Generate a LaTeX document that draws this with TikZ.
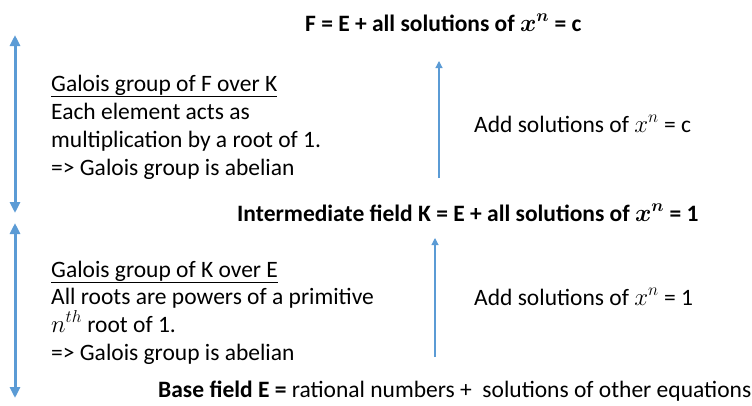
\documentclass[tikz,border=0pt]{standalone}
\usepackage{fontspec}
\setmainfont{Carlito}
\usetikzlibrary{arrows.meta}
\definecolor{arrowblue}{HTML}{5B9BD5}
\newcommand{\xn}{{\fontsize{26pt}{28pt}\selectfont$x^n$}}
\newcommand{\bxn}{{\fontsize{26pt}{28pt}\selectfont\boldmath$x^n$}}
\begin{document}
\begin{tikzpicture}[x=1pt,y=-1pt,
  txt/.style={inner sep=0pt,anchor=base west,font=\fontsize{23.5pt}{28pt}\selectfont},
  bigarrow/.style={arrowblue,line width=3pt,{Triangle[width=10pt,length=11pt]}-{Triangle[width=10pt,length=11pt]}},
  thinarrow/.style={arrowblue,line width=1.1pt,-{Triangle[width=7pt,length=7pt]}}]
\useasboundingbox (0,0) rectangle (752,405);
% titles
\node[txt] (F) at (305,31) {\textbf{F = E + all solutions of \bxn{} = c}};
\node[txt] (K) at (237,221) {\textbf{Intermediate field K = E + all solutions of \bxn{} = 1}};
\node[txt] (E) at (158,397) {\textbf{Base field E =} rational numbers +\ \ solutions of other equations};
% left texts
\node[txt] (g1) at (51,91) {\underline{Galois group of F over K}};
\node[txt] (g2) at (51,119) {Each element acts as};
\node[txt] (g3) at (51,147) {multiplication by a root of 1.};
\node[txt] (g4) at (51,175) {=> Galois group is abelian};
\node[txt] (h1) at (51,277) {\underline{Galois group of K over E}};
\node[txt] (h2) at (51,304) {All roots are powers of a primitive};
\node[txt] (h3) at (51,332) {{\fontsize{26pt}{28pt}\selectfont$n^{th}$} root of 1.};
\node[txt] (h4) at (51,360) {=> Galois group is abelian};
% right texts
\node[txt] (a1) at (474,132) {Add solutions of \xn{} = c};
\node[txt] (a2) at (474,305) {Add solutions of \xn{} = 1};
% arrows
\coordinate (b1t) at (15,35);
\coordinate (b1b) at (15,213);
\coordinate (b2t) at (15,223);
\coordinate (b2b) at (15,398);
\draw[bigarrow] (b1b) -- (b1t);
\draw[bigarrow] (b2b) -- (b2t);
\coordinate (t1s) at (439,178);
\coordinate (t1e) at (439,61);
\coordinate (t2s) at (435,357);
\coordinate (t2e) at (435,238);
\draw[thinarrow] (t1s) -- (t1e);
\draw[thinarrow] (t2s) -- (t2e);
\end{tikzpicture}
\end{document}
